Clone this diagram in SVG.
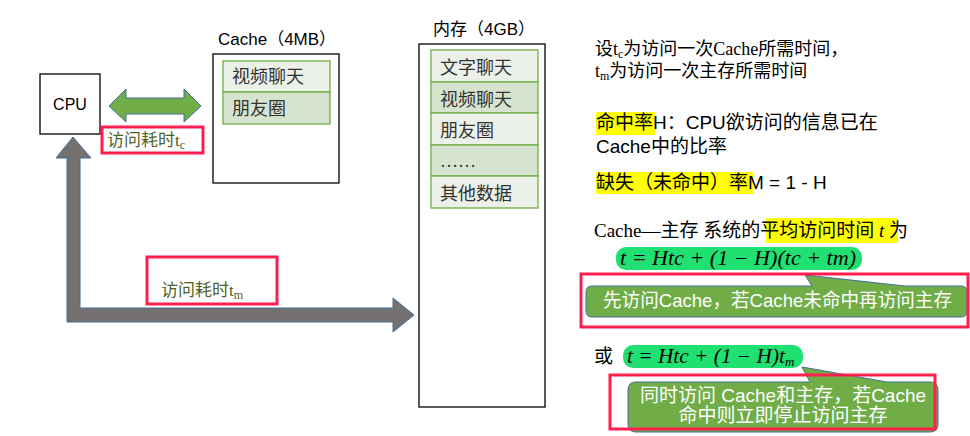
<svg xmlns="http://www.w3.org/2000/svg" width="970" height="436" viewBox="0 0 970 436">
<style>
.box{fill:#fff;stroke:#000;stroke-width:1.3}
.cell1{fill:#ebf1e9;stroke:#70ad47;stroke-width:1.3}
.cell2{fill:#d6e3cf;stroke:#70ad47;stroke-width:1.3}
.red{fill:none;stroke:#ff1f4e;stroke-width:3}
.sans{font-family:"Liberation Sans","Noto Sans CJK SC",sans-serif}
.serif{font-family:"Liberation Serif","Noto Sans CJK SC",serif}
.cell{font-family:"Liberation Serif","Noto Sans CJK SC",serif;font-size:18px;fill:#333}
.lbl{font-family:"Liberation Serif","Noto Sans CJK SC",serif;font-size:17px;fill:#4f6228}
.math{font-family:"Liberation Serif","DejaVu Serif",serif;font-style:italic;font-size:20px;fill:#000}
.hl{fill:#ffff00}
.pill{fill:#1fe070}
.callout{fill:#70ad47;stroke:#41719c;stroke-width:1}
.ctext{font-family:"Liberation Sans","Noto Sans CJK SC",sans-serif;fill:#fff}
</style>

<g id="cpu">
<rect class="box" x="40" y="74" width="60" height="60"/>
<text class="sans" x="70" y="110" font-size="16" text-anchor="middle">CPU</text>
</g>

<g id="cache">
<text class="sans" x="218" y="45" font-size="17">Cache（4MB）</text>
<rect class="box" x="213" y="54" width="126" height="129"/>
<rect class="cell1" x="223" y="61" width="107" height="31"/>
<rect class="cell2" x="223" y="92" width="107" height="32"/>
<text class="cell" x="232" y="83">视频聊天</text>
<text class="cell" x="232" y="115">朋友圈</text>
</g>

<g id="memory">
<text class="sans" x="433" y="35" font-size="17">内存（4GB）</text>
<rect class="box" x="419" y="44" width="126" height="363"/>
<rect class="cell1" x="431" y="50" width="107" height="32"/>
<rect class="cell2" x="431" y="82" width="107" height="31"/>
<rect class="cell1" x="431" y="113" width="107" height="32"/>
<rect class="cell2" x="431" y="145" width="107" height="31"/>
<rect class="cell1" x="431" y="176" width="107" height="32"/>
<text class="cell" x="440" y="74">文字聊天</text>
<text class="cell" x="440" y="106">视频聊天</text>
<text class="cell" x="440" y="137">朋友圈</text>
<text class="cell" x="440" y="167">……</text>
<text class="cell" x="440" y="200">其他数据</text>
</g>

<g id="connectors">
<path d="M109,106 L126,89 L126,98 L184,98 L184,89 L201,106 L184,122 L184,114 L126,114 L126,122 Z" fill="#70ad47" stroke="#41719c" stroke-width="1"/>
<path d="M73,137 L91,158 L80,158 L80,308 L393,308 L393,298 L414,315 L393,332 L393,322 L67,322 L67,158 L56,158 Z" fill="#767171" stroke="#41719c" stroke-width="1"/>
</g>

<g id="label-tc">
<rect class="red" x="102" y="127" width="101" height="26"/>
<text class="lbl" x="107" y="146">访问耗时t<tspan font-size="12" dy="3">c</tspan></text>
</g>

<g id="label-tm">
<rect class="red" x="147" y="257" width="130" height="47"/>
<text class="lbl" x="161" y="296">访问耗时t<tspan font-size="12" dy="3">m</tspan></text>
</g>

<g id="definitions">
<text class="serif" x="595" y="55" font-size="18">设t<tspan font-size="12" dy="3">c</tspan><tspan dy="-3">为访问一次Cache所需时间，</tspan></text>
<text class="serif" x="595" y="77" font-size="18">t<tspan font-size="12" dy="3">m</tspan><tspan dy="-3">为访问一次主存所需时间</tspan></text>
<rect class="hl" x="596" y="112" width="59" height="23"/>
<text class="sans" x="596" y="129" font-size="19">命中率H：CPU欲访问的信息已在</text>
<text class="sans" x="596" y="153" font-size="19">Cache中的比率</text>
<rect class="hl" x="596" y="172" width="157" height="22"/>
<text class="sans" x="596" y="189" font-size="19">缺失（未命中）率M = 1 - H</text>
</g>

<g id="average">
<rect class="hl" x="766" y="218" width="132" height="25"/>
<text class="serif" x="594" y="237" font-size="19">Cache—主存 系统的平均访问时间 <tspan font-style="italic">t</tspan> 为</text>
<rect class="pill" x="616" y="247" width="246" height="23" rx="10"/>
<text class="math" x="620" y="265" textLength="236" lengthAdjust="spacingAndGlyphs">t = Htc + (1 − H)(tc + tm)</text>
</g>

<g id="callout1">
<path class="callout" d="M592,286 L812,286 L805,275 L905,286 L961,286 Q967,286 967,292 L967,311 Q967,317 961,317 L592,317 Q586,317 586,311 L586,292 Q586,286 592,286 Z"/>
<text class="ctext" x="603" y="307" font-size="19" textLength="349" lengthAdjust="spacingAndGlyphs">先访问Cache，若Cache未命中再访问主存</text>
<rect class="red" x="581" y="274" width="387" height="53"/>
</g>

<g id="alt">
<text class="serif" x="594" y="363" font-size="19">或</text>
<rect class="pill" x="623" y="345" width="180" height="23" rx="10"/>
<text class="math" x="627" y="363"><tspan textLength="158" lengthAdjust="spacingAndGlyphs">t = Htc + (1 − H)t</tspan><tspan font-size="13" dy="3">m</tspan></text>
</g>

<g id="callout2">
<path class="callout" d="M636,382 L810,382 L802,367 L887,382 L930,382 Q938,382 938,390 L938,424 Q938,432 930,432 L636,432 Q628,432 628,424 L628,390 Q628,382 636,382 Z"/>
<text class="ctext" x="783" y="402" font-size="19" text-anchor="middle">同时访问 Cache和主存，若Cache</text>
<text class="ctext" x="783" y="422" font-size="19" text-anchor="middle">命中则立即停止访问主存</text>
<rect class="red" x="610" y="375" width="325" height="54"/>
</g>
</svg>
